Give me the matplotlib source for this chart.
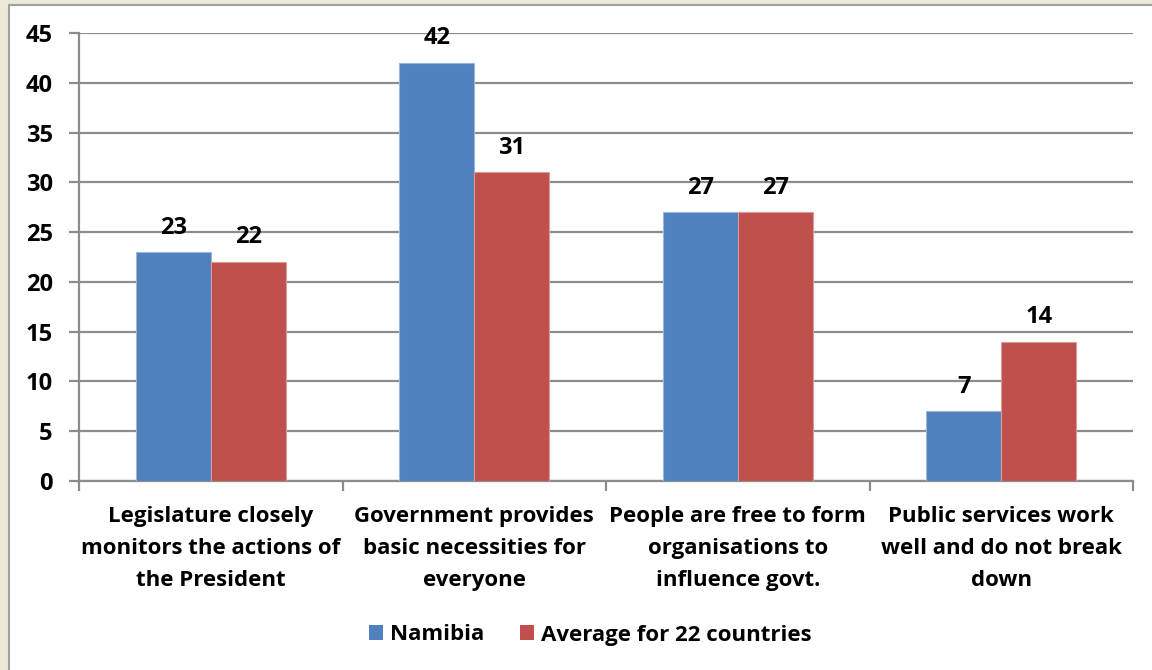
import matplotlib
matplotlib.use("Agg")
import matplotlib.pyplot as plt
from matplotlib.patches import Rectangle, Patch
import numpy as np

categories = [
    "Legislature closely\nmonitors the actions of\nthe President",
    "Government provides\nbasic necessities for\neveryone",
    "People are free to form\norganisations to\ninfluence govt.",
    "Public services work\nwell and do not break\ndown",
]
namibia = [23, 42, 27, 7]
average_22 = [22, 31, 27, 14]
series_names = ["Namibia", "Average for 22 countries"]
y_ticks = [0, 5, 10, 15, 20, 25, 30, 35, 40, 45]

BLUE = "#4F81BD"
RED = "#C0504D"
GRID = "#8C8C8C"
FONT = "Open Sans"
FS_TEXT = 16
FS_NUM = 17

W, H = 1152, 670
fig = plt.figure(figsize=(W / 100, H / 100), dpi=100)
fig.patch.set_facecolor("#ECE9D8")

# white chart panel with a grey border
panel = Rectangle((9 / W, -0.01), 1.0, 1 - 5 / H + 0.01, transform=fig.transFigure,
                  facecolor="white", edgecolor="#A0A0A0", linewidth=1.5, zorder=-10)
fig.patches.append(panel)

ax = fig.add_axes([79 / W, 1 - 481 / H, (1133 - 79) / W, (481 - 33) / H])
ax.set_facecolor("white")

x = np.arange(len(categories))
bw = 0.285
b1 = ax.bar(x - bw / 2, namibia, bw, color=BLUE, edgecolor="#9DB7DC", linewidth=0.8, zorder=3)
b2 = ax.bar(x + bw / 2, average_22, bw, color=RED, edgecolor="#DA9A98", linewidth=0.8, zorder=3)

for bars in (b1, b2):
    ax.bar_label(bars, padding=9, fontsize=FS_NUM, fontweight="bold", family=FONT, zorder=4)

ax.set_xlim(-0.5, len(categories) - 0.5)
ax.set_ylim(0, 45)
ax.set_yticks(y_ticks)
ax.yaxis.grid(True, color=GRID, linewidth=1.6, zorder=0)
ax.set_axisbelow(True)

for s in ("top", "right"):
    ax.spines[s].set_visible(False)
for s in ("left", "bottom"):
    ax.spines[s].set_color(GRID)
    ax.spines[s].set_linewidth(1.6)

ax.tick_params(axis="y", direction="out", length=7, width=1.6, color=GRID, pad=12,
               labelsize=FS_NUM)
ax.set_xticks(x)
ax.set_xticklabels(categories, fontsize=FS_TEXT, fontweight="bold", family=FONT,
                   linespacing=1.68)
ax.tick_params(axis="x", length=0, pad=18)
ax.set_xticks(np.arange(-0.5, len(categories), 1.0), minor=True)
ax.tick_params(axis="x", which="minor", direction="out", length=7, width=1.6, color=GRID)
for lab in ax.get_yticklabels():
    lab.set_fontweight("bold")
    lab.set_family(FONT)

handles = [Patch(facecolor=BLUE), Patch(facecolor=RED)]
leg = fig.legend(handles, series_names, loc="center", bbox_to_anchor=(590 / W, 1 - 635 / H),
                 ncol=2, frameon=False, handlelength=0.63, handleheight=0.63,
                 handletextpad=0.32, columnspacing=1.6,
                 prop={"family": FONT, "weight": "bold", "size": FS_TEXT})

fig.savefig("out.png", dpi=100, facecolor=fig.get_facecolor())
